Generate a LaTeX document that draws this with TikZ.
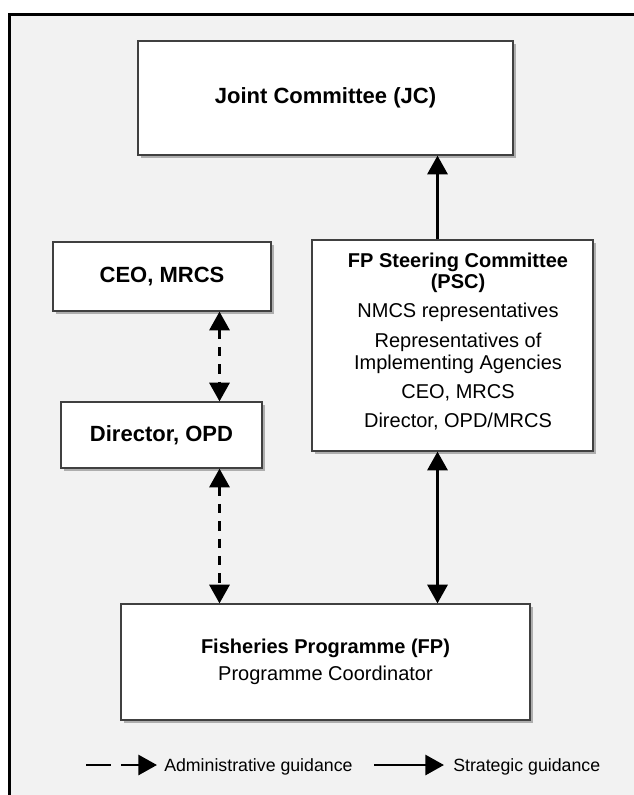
\documentclass[tikz,border=0pt]{standalone}
\usepackage{fontspec}
\setmainfont{Liberation Sans}
\usetikzlibrary{arrows.meta,shadows}
\definecolor{bggray}{HTML}{F2F2F2}
\begin{document}
\begin{tikzpicture}[x=0.75pt,y=-0.75pt,
  box/.style={draw=black!75,line width=0.9pt,fill=white,inner sep=0pt,
    drop shadow={shadow xshift=2pt,shadow yshift=-2.2pt,fill=black,opacity=0.28}},
  ttl/.style={font=\fontsize{16.5}{19}\selectfont\bfseries},
  conn/.style={line width=2.2pt,-{Triangle[width=15pt,length=14pt]}},
  conn2/.style={line width=2.2pt,{Triangle[width=15pt,length=14pt]}-{Triangle[width=15pt,length=14pt]}},
  dsh/.style={dash pattern=on 7pt off 6pt},
  legtxt/.style={anchor=west,font=\fontsize{13.3}{15}\selectfont,inner sep=0pt}]
\useasboundingbox (0,0) rectangle (634,795);
% frame and background
\fill[bggray] (9.5,14.5) rectangle (634,795);
\draw[line width=2.3pt] (9.5,795) -- (9.5,14.5) -- (634,14.5);

% boxes
\node[box,ttl,minimum width=375*0.75pt,minimum height=114*0.75pt] (jc) at (325.5,98) {Joint Committee (JC)};
\node[box,ttl,minimum width=218*0.75pt,minimum height=69*0.75pt] (ceo) at (162,276.5) {\raisebox{-2pt}{CEO, MRCS}};
\node[box,ttl,minimum width=201*0.75pt,minimum height=66*0.75pt] (dir) at (161.5,435) {Director, OPD};
\node[box,minimum width=281*0.75pt,minimum height=211*0.75pt] (psc) at (452.5,345.5) {};
\node[align=center,font=\fontsize{15}{16.5}\selectfont,inner sep=0pt] (psct) at (458,341.5)
  {{\bfseries FP Steering Committee}\\[-0.6pt]{\bfseries (PSC)}\\[5.5pt]NMCS representatives\\[5.5pt]Representatives of\\Implementing Agencies\\[5.5pt]CEO, MRCS\\[5.5pt]Director, OPD/MRCS};
\node[box,align=center,minimum width=409*0.75pt,minimum height=116*0.75pt] (fp) at (325.5,662)
  {{\fontsize{15}{16.5}\selectfont\bfseries Fisheries Programme (FP)}\\[5.5pt]{\fontsize{15}{16.5}\selectfont Programme Coordinator}};

% connector columns
\coordinate (dx) at (219.5,0);
\coordinate (sx) at (437.5,0);

% connectors
\draw[conn] (sx |- psc.north) -- (sx |- jc.south);
\draw[conn2,dsh] (dx |- ceo.south) -- (dx |- dir.north);
\draw[conn2,dsh] (dx |- dir.south) -- (dx |- fp.north);
\draw[conn2] (sx |- psc.south) -- (sx |- fp.north);

% legend
\coordinate (l1a) at (86,765);
\coordinate (l1b) at (111,765);
\coordinate (l1c) at (121,765);
\coordinate (l1d) at (157,765);
\coordinate (l2a) at (374,765);
\coordinate (l2b) at (444,765);
\draw[line width=2.2pt] (l1a) -- (l1b);
\draw[conn] (l1c) -- (l1d);
\node[legtxt] (lt1) at (164,767) {Administrative guidance};
\draw[conn] (l2a) -- (l2b);
\node[legtxt] (lt2) at (453,767) {Strategic guidance};
\end{tikzpicture}
\end{document}
